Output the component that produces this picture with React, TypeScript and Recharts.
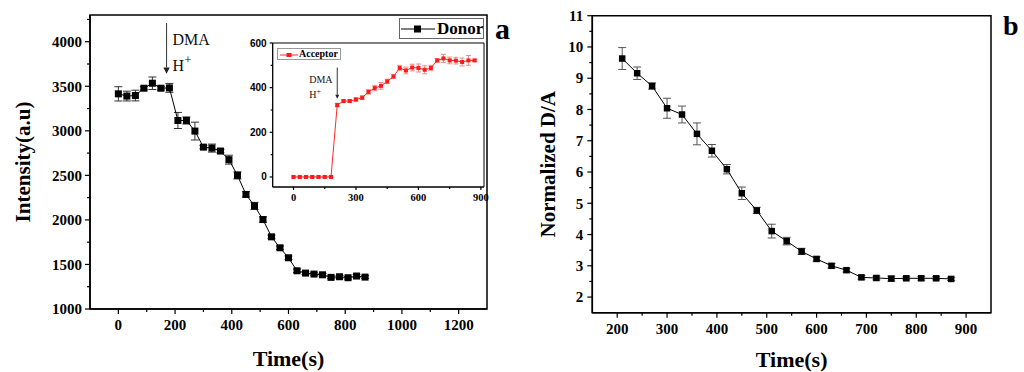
import React from "react";
import { ComposedChart, Line, XAxis, YAxis, ErrorBar, ReferenceArea, ReferenceLine, Label } from "recharts";

const SERIF = '"Liberation Serif", "Times New Roman", serif';
const SANS = '"Liberation Sans", Arial, sans-serif';

// panel a: donor intensity (main) and acceptor intensity (inset), every 30 s
const time = [0, 30, 60, 90, 120, 150, 180, 210, 240, 270, 300, 330, 360, 390, 420, 450, 480, 510, 540, 570, 600, 630, 660, 690, 720, 750, 780, 810, 840, 870];
const donor = [3415, 3390, 3396, 3478, 3534, 3478, 3482, 3116, 3116, 2997, 2817, 2806, 2773, 2676, 2500, 2286, 2157, 2004, 1810, 1687, 1575, 1429, 1403, 1392, 1384, 1355, 1362, 1351, 1370, 1358];
const donorErr = [80, 55, 60, 20, 70, 20, 50, 90, 40, 100, 20, 45, 20, 50, 40, 30, 40, 30, 20, 20, 20, 20, 15, 15, 15, 15, 15, 15, 15, 15];
const acceptor = [0, 0, 0, 0, 0, 0, 0, 322, 340, 340, 347, 355, 381, 398, 408, 428, 450, 488, 477, 490, 488, 480, 488, 522, 531, 522, 521, 515, 522, 522];
const acceptorErr = [4, 4, 4, 4, 4, 4, 4, 8, 6, 6, 8, 8, 10, 12, 15, 10, 8, 12, 15, 15, 18, 18, 12, 8, 18, 15, 15, 18, 22, 5];

// panel b: normalized donor/acceptor ratio
const ratioTime = [210, 240, 270, 300, 330, 360, 390, 420, 450, 480, 510, 540, 570, 600, 630, 660, 690, 720, 750, 780, 810, 840, 870];
const ratio = [9.63, 9.16, 8.75, 8.04, 7.84, 7.22, 6.68, 6.09, 5.32, 4.77, 4.11, 3.79, 3.46, 3.22, 3.0, 2.86, 2.63, 2.61, 2.59, 2.6, 2.6, 2.6, 2.58];
const ratioErr = [0.35, 0.2, 0.1, 0.32, 0.27, 0.35, 0.2, 0.15, 0.2, 0.1, 0.22, 0.12, 0.1, 0.07, 0.07, 0.06, 0.06, 0.06, 0.08, 0.05, 0.06, 0.05, 0.05];

// tick labels
const aMajorX = [0, 200, 400, 600, 800, 1000, 1200];
const aMinorX = [100, 300, 500, 700, 900, 1100];
const aMajorY = [1000, 1500, 2000, 2500, 3000, 3500, 4000];
const aMinorY = [1250, 1750, 2250, 2750, 3250, 3750, 4250];
const insetMajorX = [0, 300, 600, 900];
const insetMinorX = [150, 450, 750];
const insetMajorY = [0, 200, 400, 600];
const insetMinorY = [100, 300, 500];
const bMajorX = [200, 300, 400, 500, 600, 700, 800, 900];
const bMinorX = [250, 350, 450, 550, 650, 750, 850];
const bMajorY = [2, 3, 4, 5, 6, 7, 8, 9, 10, 11];
const bMinorY = [2.5, 3.5, 4.5, 5.5, 6.5, 7.5, 8.5, 9.5, 10.5];

const aRows = time.map((t, i) => ({ t, donor: donor[i], donorErr: donorErr[i], acceptor: acceptor[i], acceptorErr: acceptorErr[i] }));
const bRows = ratioTime.map((t, i) => ({ t, ratio: ratio[i], ratioErr: ratioErr[i] }));

const A_X = [-100, 1300];
const A_Y = [1000, 4300];
const IN_X = [-100, 915];
const IN_Y = [-45, 600];
const B_X = [150, 950];
const B_Y = [1.5, 11];

type TickOpts = { majors: number[]; len: number; minorLen: number; gap: number; font: string; size: number };

function bottomTick(o: TickOpts) {
  return (p: any) => {
    const v = p.payload.value;
    const major = o.majors.includes(v);
    return (
      <g>
        <line x1={p.x} x2={p.x} y1={p.y} y2={p.y + (major ? o.len : o.minorLen)} stroke="#000" strokeWidth={1.2} />
        {major && (
          <text x={p.x} y={p.y + o.len + o.gap} dy="0.72em" textAnchor="middle" fontFamily={o.font} fontWeight="bold" fontSize={o.size} fill="#000">
            {v}
          </text>
        )}
      </g>
    );
  };
}

function leftTick(o: TickOpts) {
  return (p: any) => {
    const v = p.payload.value;
    const major = o.majors.includes(v);
    return (
      <g>
        <line x1={p.x} x2={p.x - (major ? o.len : o.minorLen)} y1={p.y} y2={p.y} stroke="#000" strokeWidth={1.2} />
        {major && (
          <text x={p.x - o.len - o.gap} y={p.y} dy="0.35em" textAnchor="end" fontFamily={o.font} fontWeight="bold" fontSize={o.size} fill="#000">
            {v}
          </text>
        )}
      </g>
    );
  };
}

const square = (size: number, fill: string) => (p: any) => (
  <rect key={`sq-${p.index}`} x={p.cx - size / 2} y={p.cy - size / 2} width={size} height={size} fill={fill} />
);

function arrowShape(size: number, dmaDx: number, dmaDy: number, hDx: number, hDy: number) {
  return (p: any) => {
    const { x1, y1, x2, y2 } = p;
    const head = size * 0.4;
    return (
      <g>
        <line x1={x1} y1={y1} x2={x2} y2={y2 - head} stroke="#333" strokeWidth={1} />
        <polygon points={`${x2 - head / 2},${y2 - head} ${x2 + head / 2},${y2 - head} ${x2},${y2}`} fill="#222" />
        <text x={x1 + dmaDx} y={y1 + dmaDy} dy="0.35em" fontFamily={SERIF} fontSize={size} fill="#111">
          DMA
        </text>
        <text x={x1 + hDx} y={y1 + hDy} dy="0.35em" fontFamily={SERIF} fontSize={size} fill="#111">
          H<tspan dy={-size * 0.4} fontSize={size * 0.8}>+</tspan>
        </text>
      </g>
    );
  };
}

function PanelA() {
  return (
    <ComposedChart width={500} height={372} data={aRows} margin={{ top: 15, right: 13, left: 5, bottom: 6 }}>
      <XAxis dataKey="t" type="number" domain={A_X} ticks={[...aMajorX, ...aMinorX]} interval={0} tickSize={0} tickMargin={0}
        tick={bottomTick({ majors: aMajorX, len: 5, minorLen: 3, gap: 5, font: SERIF, size: 15 })} tickLine={false}
        axisLine={{ stroke: "#000", strokeWidth: 1.5 }} height={57}>
        <Label value="Time(s)" position="insideBottom" offset={0} style={{ fontFamily: SERIF, fontWeight: "bold", fontSize: 22, fill: "#000" }} />
      </XAxis>
      <YAxis type="number" domain={A_Y} ticks={[...aMajorY, ...aMinorY]} interval={0} tickSize={0} tickMargin={0}
        tick={leftTick({ majors: aMajorY, len: 5, minorLen: 3, gap: 3, font: SERIF, size: 15 })} tickLine={false}
        axisLine={{ stroke: "#000", strokeWidth: 1.5 }} width={85}>
        <Label value="Intensity(a.u)" angle={-90} position="insideLeft" offset={18} style={{ textAnchor: "middle", fontFamily: SERIF, fontWeight: "bold", fontSize: 21, fill: "#000" }} />
      </YAxis>
      <ReferenceArea x1={A_X[0]} x2={A_X[1]} y1={A_Y[0]} y2={A_Y[1]} fill="none" fillOpacity={0} stroke="#000" strokeWidth={1.5} />
      <ReferenceLine segment={[{ x: 170, y: 4210 }, { x: 170, y: 3640 }]} shape={arrowShape(16, 6, 16, 6, 42)} />
      <Line dataKey="donor" stroke="#000" strokeWidth={1} isAnimationActive={false} dot={square(7, "#000")} activeDot={false}>
        <ErrorBar dataKey="donorErr" width={4} stroke="#333" strokeWidth={1} direction="y" />
      </Line>
    </ComposedChart>
  );
}

function Inset() {
  return (
    <ComposedChart width={260} height={180} data={aRows} margin={{ top: 13, right: 6, left: 4, bottom: 3 }}>
      <XAxis dataKey="t" type="number" domain={IN_X} ticks={[...insetMajorX, ...insetMinorX]} interval={0} tickSize={0} tickMargin={0}
        tick={bottomTick({ majors: insetMajorX, len: 3, minorLen: 2, gap: 3, font: SERIF, size: 10.5 })} tickLine={false}
        axisLine={{ stroke: "#000", strokeWidth: 1 }} height={20} />
      <YAxis type="number" domain={IN_Y} ticks={[...insetMajorY, ...insetMinorY]} interval={0} tickSize={0} tickMargin={0}
        tick={leftTick({ majors: insetMajorY, len: 3, minorLen: 2, gap: 3, font: SANS, size: 10 })} tickLine={false}
        axisLine={{ stroke: "#000", strokeWidth: 1 }} width={38.7} />
      <ReferenceArea x1={IN_X[0]} x2={IN_X[1]} y1={IN_Y[0]} y2={IN_Y[1]} fill="#fff" fillOpacity={1} stroke="#000" strokeWidth={1} />
      <ReferenceLine segment={[{ x: 210, y: 490 }, { x: 210, y: 350 }]} shape={arrowShape(10, -28, 12, -28, 27)} />
      <Line dataKey="acceptor" stroke="#ff2a2a" strokeWidth={1} isAnimationActive={false} dot={square(4, "#ff1a1a")} activeDot={false}>
        <ErrorBar dataKey="acceptorErr" width={2.5} stroke="#f08a8a" strokeWidth={1} direction="y" />
      </Line>
    </ComposedChart>
  );
}

function PanelB() {
  return (
    <ComposedChart width={504} height={372} data={bRows} margin={{ top: 15.7, right: 33, left: 5, bottom: 5 }}>
      <XAxis dataKey="t" type="number" domain={B_X} ticks={[...bMajorX, ...bMinorX]} interval={0} tickSize={0} tickMargin={0}
        tick={bottomTick({ majors: bMajorX, len: 5, minorLen: 3, gap: 5, font: SERIF, size: 15 })} tickLine={false}
        axisLine={{ stroke: "#000", strokeWidth: 1.5 }} height={54.3}>
        <Label value="Time(s)" position="insideBottom" offset={0} style={{ fontFamily: SERIF, fontWeight: "bold", fontSize: 22, fill: "#000" }} />
      </XAxis>
      <YAxis type="number" domain={B_Y} ticks={[...bMajorY, ...bMinorY]} interval={0} tickSize={0} tickMargin={0}
        tick={leftTick({ majors: bMajorY, len: 5, minorLen: 3, gap: 4, font: SERIF, size: 15 })} tickLine={false}
        axisLine={{ stroke: "#000", strokeWidth: 1.5 }} width={67.3}>
        <Label value="Normalized D/A" angle={-90} position="insideLeft" offset={23} style={{ textAnchor: "middle", fontFamily: SERIF, fontWeight: "bold", fontSize: 21, fill: "#000" }} />
      </YAxis>
      <ReferenceArea x1={B_X[0]} x2={B_X[1]} y1={B_Y[0]} y2={B_Y[1]} fill="none" fillOpacity={0} stroke="#000" strokeWidth={1.5} />
      <Line dataKey="ratio" stroke="#000" strokeWidth={1} isAnimationActive={false} dot={square(6.5, "#000")} activeDot={false}>
        <ErrorBar dataKey="ratioErr" width={4} stroke="#555" strokeWidth={1} direction="y" />
      </Line>
    </ComposedChart>
  );
}

export default function App() {
  return (
    <div style={{ position: "absolute", left: 0, top: 0, width: 1024, height: 372, background: "#fff", overflow: "hidden" }}>
      <div style={{ position: "absolute", left: 0, top: 0 }}>
        <PanelA />
      </div>
      <div style={{ position: "absolute", left: 230, top: 30 }}>
        <Inset />
      </div>
      {/* inset legend */}
      <div style={{ position: "absolute", left: 277, top: 48, width: 64, height: 12, border: "1px solid #999", background: "#fff", fontFamily: SERIF, fontWeight: "bold", fontSize: 10, lineHeight: "12px", boxSizing: "border-box" }}>
        <svg width={18} height={10} style={{ position: "absolute", left: 2, top: 1 }}>
          <line x1={0} x2={18} y1={5} y2={5} stroke="#ff2a2a" strokeWidth={1} />
          <rect x={6.5} y={3} width={5} height={4} fill="#ff1a1a" />
        </svg>
        <span style={{ position: "absolute", left: 21, top: -1 }}>Acceptor</span>
      </div>
      {/* donor legend */}
      <div style={{ position: "absolute", left: 399, top: 18, width: 85, height: 21, border: "1px solid #666", background: "#fff", fontFamily: SERIF, fontWeight: "bold", fontSize: 17, lineHeight: "19px", boxSizing: "border-box" }}>
        <svg width={34} height={19} style={{ position: "absolute", left: 1, top: 0 }}>
          <line x1={0} x2={34} y1={10} y2={10} stroke="#000" strokeWidth={1} />
          <rect x={13} y={6.5} width={7} height={7} fill="#000" />
        </svg>
        <span style={{ position: "absolute", left: 37, top: 0 }}>Donor</span>
      </div>
      <div style={{ position: "absolute", left: 520, top: 0 }}>
        <PanelB />
      </div>
      <div style={{ position: "absolute", left: 495, top: 12, fontFamily: SERIF, fontWeight: "bold", fontSize: 30 }}>a</div>
      <div style={{ position: "absolute", left: 1003, top: 10, fontFamily: SERIF, fontWeight: "bold", fontSize: 28 }}>b</div>
    </div>
  );
}
